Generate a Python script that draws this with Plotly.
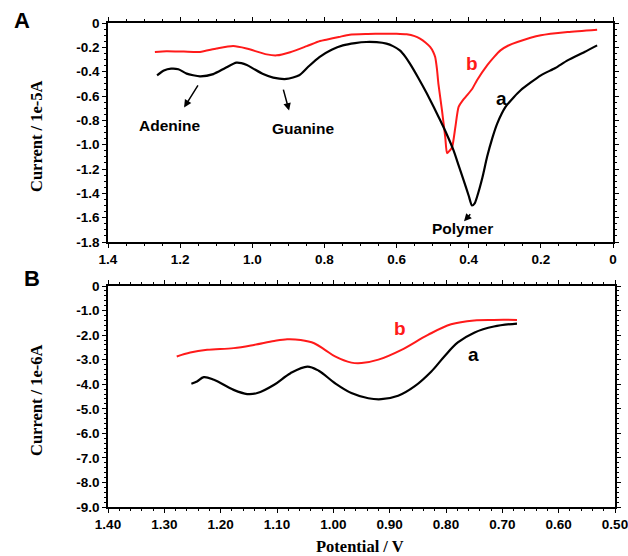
import plotly.graph_objects as go

# Panel A data (Potential / V, Current / 1e-5 A)
a_black_x = [1.264, 1.245, 1.225, 1.205, 1.182, 1.145, 1.108, 1.075, 1.044, 1.015, 0.997, 0.97, 0.942, 0.905, 0.87,
             0.845, 0.814, 0.78, 0.749, 0.715, 0.684, 0.655, 0.628, 0.61, 0.591, 0.575, 0.563, 0.54, 0.516, 0.497,
             0.479, 0.46, 0.442, 0.428, 0.414, 0.40, 0.391, 0.383, 0.377, 0.362, 0.349, 0.335, 0.321, 0.298, 0.275,
             0.256, 0.2, 0.16, 0.126, 0.079, 0.044]
a_black_y = [-0.43, -0.39, -0.375, -0.38, -0.416, -0.438, -0.42, -0.37, -0.326, -0.345, -0.375, -0.42, -0.449, -0.46, -0.43,
             -0.36, -0.28, -0.22, -0.184, -0.165, -0.156, -0.158, -0.17, -0.19, -0.225, -0.28, -0.334, -0.45, -0.58, -0.69,
             -0.80, -0.92, -1.047, -1.17, -1.293, -1.42, -1.5, -1.48, -1.43, -1.27, -1.10, -0.95, -0.827, -0.69, -0.61,
             -0.553, -0.43, -0.37, -0.307, -0.238, -0.184]
a_red_x = [1.27, 1.238, 1.19, 1.145, 1.099, 1.053, 1.016, 0.96, 0.932, 0.895, 0.849, 0.812, 0.795, 0.76, 0.73, 0.68,
           0.637, 0.6, 0.572, 0.55, 0.535, 0.52, 0.507, 0.498, 0.493, 0.488, 0.484, 0.474, 0.465, 0.46, 0.453, 0.446,
           0.437, 0.428, 0.415, 0.405, 0.39, 0.377, 0.349, 0.33, 0.312, 0.29, 0.265, 0.2, 0.126, 0.044]
a_red_y = [-0.238, -0.232, -0.235, -0.238, -0.21, -0.19, -0.21, -0.258, -0.266, -0.24, -0.19, -0.148, -0.137, -0.115, -0.096, -0.09,
           -0.088, -0.088, -0.093, -0.108, -0.129, -0.16, -0.197, -0.24, -0.28, -0.38, -0.5, -0.72, -0.94, -1.07, -1.05, -1.02,
           -0.855, -0.69, -0.63, -0.595, -0.54, -0.47, -0.348, -0.28, -0.225, -0.185, -0.156, -0.101, -0.074, -0.055]

# Panel B data (Potential / V, Current / 1e-6 A)
b_black_x = [1.252, 1.242, 1.23, 1.212, 1.177, 1.153, 1.135, 1.105, 1.076, 1.046, 1.026, 0.997, 0.968, 0.938, 0.915,
             0.885, 0.856, 0.826, 0.803, 0.779, 0.75, 0.715, 0.674]
b_black_y = [-3.98, -3.89, -3.71, -3.82, -4.23, -4.40, -4.36, -4.02, -3.55, -3.28, -3.45, -3.96, -4.36, -4.57, -4.61,
             -4.47, -4.09, -3.48, -2.87, -2.30, -1.9, -1.65, -1.53]
b_red_x = [1.278, 1.254, 1.224, 1.177, 1.141, 1.105, 1.082, 1.058, 1.034, 1.015, 0.997, 0.968, 0.95, 0.92, 0.879,
           0.832, 0.791, 0.75, 0.715, 0.674]
b_red_y = [-2.87, -2.71, -2.6, -2.53, -2.40, -2.24, -2.17, -2.2, -2.33, -2.6, -2.87, -3.12, -3.14, -3.0, -2.6,
           -1.99, -1.56, -1.4, -1.38, -1.38]

a_xticks = [1.4, 1.2, 1.0, 0.8, 0.6, 0.4, 0.2, 0.0]
a_xticktext = ["1.4", "1.2", "1.0", "0.8", "0.6", "0.4", "0.2", "0"]
a_yticks = [0, -0.2, -0.4, -0.6, -0.8, -1.0, -1.2, -1.4, -1.6, -1.8]
a_yticktext = ["0", "-0.2", "-0.4", "-0.6", "-0.8", "-1.0", "-1.2", "-1.4", "-1.6", "-1.8"]
b_xticks = [1.4, 1.3, 1.2, 1.1, 1.0, 0.9, 0.8, 0.7, 0.6, 0.5]
b_xticktext = ["1.40", "1.30", "1.20", "1.10", "1.00", "0.90", "0.80", "0.70", "0.60", "0.50"]
b_yticks = [0, -1, -2, -3, -4, -5, -6, -7, -8, -9]
b_yticktext = ["0", "-1.0", "-2.0", "-3.0", "-4.0", "-5.0", "-6.0", "-7.0", "-8.0", "-9.0"]

W, H = 628, 556
fig = go.Figure()
fig.add_trace(go.Scatter(x=a_red_x, y=a_red_y, mode="lines", line=dict(color="#ff1a1a", width=2, shape="spline", smoothing=0.6),
                         xaxis="x", yaxis="y", showlegend=False))
fig.add_trace(go.Scatter(x=a_black_x, y=a_black_y, mode="lines", line=dict(color="black", width=2.2, shape="spline", smoothing=0.6),
                         xaxis="x", yaxis="y", showlegend=False))
fig.add_trace(go.Scatter(x=b_red_x, y=b_red_y, mode="lines", line=dict(color="#ff1a1a", width=2, shape="spline"),
                         xaxis="x2", yaxis="y2", showlegend=False))
fig.add_trace(go.Scatter(x=b_black_x, y=b_black_y, mode="lines", line=dict(color="black", width=2.2, shape="spline"),
                         xaxis="x2", yaxis="y2", showlegend=False))

tickfont = dict(family="Liberation Sans", size=13.5, color="black", weight="bold")
common = dict(showline=True, linecolor="black", linewidth=1.5, mirror="allticks", ticks="outside",
              ticklen=4, tickwidth=1.2, tickcolor="black", showgrid=False, zeroline=False,
              tickfont=tickfont, tickmode="array", automargin=False, ticklabeloverflow="allow")

fig.update_layout(
    width=W, height=H, margin=dict(l=0, r=0, t=0, b=0),
    plot_bgcolor="white", paper_bgcolor="white",
    xaxis=dict(domain=[108 / W, 613 / W], range=[1.4, 0.0], anchor="y", tickvals=a_xticks, ticktext=a_xticktext,
               minor=dict(dtick=0.05, ticks="outside", ticklen=2, tickcolor="black"), **common),
    yaxis=dict(domain=[1 - 242 / H, 1 - 23 / H], range=[-1.8, 0], anchor="x", tickvals=a_yticks, ticktext=a_yticktext,
               minor=dict(dtick=0.05, ticks="outside", ticklen=2, tickcolor="black"), **common),
    xaxis2=dict(domain=[108 / W, 615 / W], range=[1.4, 0.5], anchor="y2", tickvals=b_xticks, ticktext=b_xticktext,
                minor=dict(dtick=0.02, ticks="outside", ticklen=2, tickcolor="black"), **common),
    yaxis2=dict(domain=[1 - 507 / H, 1 - 286 / H], range=[-9, 0], anchor="x2", tickvals=b_yticks, ticktext=b_yticktext,
                minor=dict(dtick=0.2, ticks="outside", ticklen=2, tickcolor="black"), **common),
)

ann = []
centered = dict(xref="paper", yref="paper", showarrow=False, xanchor="center", yanchor="middle")
# panel letters
ann.append(dict(text="A", x=22 / W, y=1 - 20 / H, font=dict(family="Liberation Sans", size=22, color="black", weight="bold"), **centered))
ann.append(dict(text="B", x=32 / W, y=1 - 278 / H, font=dict(family="Liberation Sans", size=22, color="black", weight="bold"), **centered))
# axis titles
titlefont = dict(family="Liberation Serif", size=16.5, color="black", weight="bold")
ann.append(dict(text="Current / 1e-5A", x=36 / W, y=1 - 136 / H, textangle=-90, font=titlefont, **centered))
ann.append(dict(text="Current / 1e-6A", x=36 / W, y=1 - 400 / H, textangle=-90, font=titlefont, **centered))
ann.append(dict(text="Potential / V", x=360 / W, y=1 - 546 / H,
                font=dict(family="Liberation Serif", size=16.5, color="black", weight="bold"), **centered))
# curve labels
lblfont = dict(family="Liberation Sans", size=15.5, color="black", weight="bold")
ann.append(dict(text="Adenine", x=1.228, y=-0.84, xref="x", yref="y", showarrow=False, font=lblfont))
ann.append(dict(text="Guanine", x=0.86, y=-0.87, xref="x", yref="y", showarrow=False, font=lblfont))
ann.append(dict(text="Polymer", x=0.416, y=-1.69, xref="x", yref="y", showarrow=False, font=lblfont))
ann.append(dict(text="b", x=0.39, y=-0.33, xref="x", yref="y", showarrow=False,
                font=dict(family="Liberation Sans", size=19, color="#ff1a1a", weight="bold")))
ann.append(dict(text="a", x=0.31, y=-0.62, xref="x", yref="y", showarrow=False,
                font=dict(family="Liberation Sans", size=19, color="black", weight="bold")))
ann.append(dict(text="b", x=0.882, y=-1.75, xref="x2", yref="y2", showarrow=False,
                font=dict(family="Liberation Sans", size=19, color="#ff1a1a", weight="bold")))
ann.append(dict(text="a", x=0.752, y=-2.78, xref="x2", yref="y2", showarrow=False,
                font=dict(family="Liberation Sans", size=19, color="black", weight="bold")))
# arrows
for hx, hy, tx, ty in [(1.189, -0.694, 1.148, -0.50), (0.898, -0.72, 0.915, -0.535), (0.413, -1.63, 0.392, -1.56)]:
    ann.append(dict(text="", x=hx, y=hy, ax=tx, ay=ty, xref="x", yref="y", axref="x", ayref="y",
                    showarrow=True, arrowhead=2, arrowsize=1, arrowwidth=1.5, arrowcolor="black"))
fig.update_layout(annotations=ann)

fig.write_html("out.html", config={"displayModeBar": False},
               post_script="document.body.style.margin='0';document.body.style.overflow='hidden';")
